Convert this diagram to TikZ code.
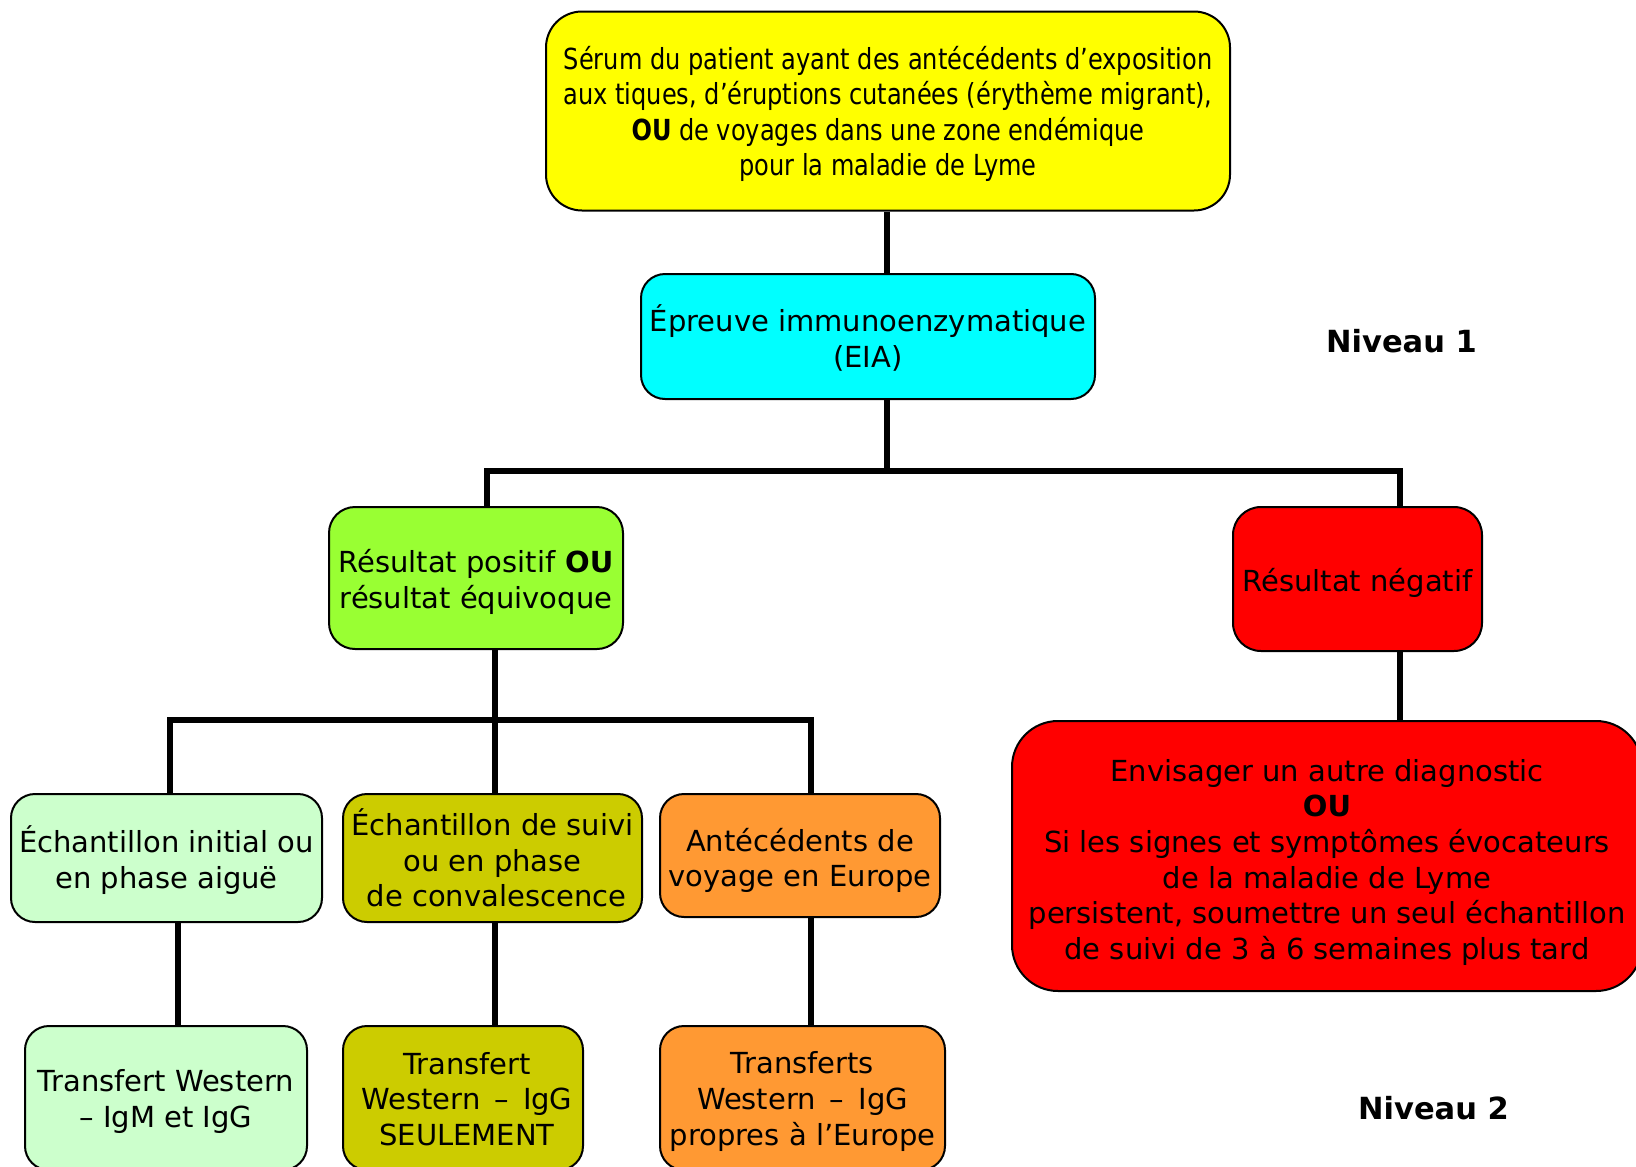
\documentclass[tikz,border=0pt]{standalone}
\usepackage{fontspec}
\setmainfont{DejaVu Sans}
\newfontfamily\narrowfont[FakeStretch=0.83]{DejaVu Sans}
\definecolor{cYel}{HTML}{FFFF00}
\definecolor{cCyan}{HTML}{00FFFF}
\definecolor{cGreen}{HTML}{99FF33}
\definecolor{cRed}{HTML}{FF0000}
\definecolor{cLight}{HTML}{CCFFCC}
\definecolor{cOlive}{HTML}{CCCC00}
\definecolor{cOrange}{HTML}{FF9933}
\begin{document}
\begin{tikzpicture}[x=1pt,y=-1pt,
  box/.style={draw=black, line width=2pt, inner sep=0pt},
  txt/.style={align=center, inner sep=0pt, font=\fontsize{29}{35.7}\selectfont},
  conn/.style={draw=black, line width=5.8pt},
  lvl/.style={font=\fontsize{30.5}{35}\selectfont\bfseries, inner sep=0pt}]
\useasboundingbox (0,0) rectangle (1636,1167);
\clip (0,0) rectangle (1636,1167);
\fill[white] (0,0) rectangle (1636,1167);

% junction coordinates
\coordinate (j1) at (887,471);
\coordinate (j2) at (494.6,720);
\coordinate (c3) at (1400,720);

% boxes
\node[box, fill=cYel, minimum width=684pt, minimum height=199pt, rounded corners=36pt] (yel) at (888,111) {};
\node[box, fill=cCyan, minimum width=454pt, minimum height=125pt, rounded corners=24pt] (cy) at (868,336.5) {};
\node[box, fill=cGreen, minimum width=294pt, minimum height=142pt, rounded corners=26pt] (pos) at (476,578) {};
\node[box, fill=cRed, minimum width=249pt, minimum height=144pt, rounded corners=28pt] (neg) at (1357.5,579) {};
\node[box, fill=cLight, minimum width=311pt, minimum height=128pt, rounded corners=24pt] (lg) at (166.5,858) {};
\node[box, fill=cOlive, minimum width=299pt, minimum height=128pt, rounded corners=24pt] (ol) at (492.5,858) {};
\node[box, fill=cOrange, minimum width=280pt, minimum height=123pt, rounded corners=24pt] (or) at (800,855.5) {};
\node[box, fill=cLight, minimum width=282pt, minimum height=144pt, rounded corners=24pt] (lg2) at (166,1098) {};
\node[box, fill=cOlive, minimum width=240pt, minimum height=144pt, rounded corners=24pt] (ol2) at (463,1098) {};
\node[box, fill=cOrange, minimum width=285pt, minimum height=144pt, rounded corners=24pt] (or2) at (802.5,1098) {};
\node[box, fill=cRed, minimum width=630pt, minimum height=270pt, rounded corners=46pt] (big) at (1327,856) {};

% texts
\node[txt, font=\fontsize{29}{35.6}\selectfont\narrowfont] (yelT) at ([yshift=-3pt]yel.center)
  {Sérum du patient ayant des antécédents d’exposition\\
   aux tiques, d’éruptions cutanées (érythème migrant),\\
   \textbf{OU} de voyages dans une zone endémique\\
   pour la maladie de Lyme};
\node[txt] (cyT) at ([yshift=-1.6pt]cy.center) {Épreuve immunoenzymatique\\(EIA)};
\node[txt] (posT) at ([yshift=-4.2pt]pos.center) {Résultat positif \textbf{OU}\\résultat équivoque};
\node[txt] (negT) at ([yshift=-4.2pt]neg.center) {Résultat négatif};
\node[txt] (lgT) at ([yshift=-2pt]lg.center) {Échantillon initial ou\\en phase aiguë};
\node[txt] (olT) at (ol.center) {Échantillon de suivi\\ou en phase\\\hphantom{i}de convalescence};
\node[txt] (orT) at ([yshift=-5pt]or.center) {Antécédents de\\voyage en Europe};
\node[txt] (lg2T) at ([yshift=-3.6pt]lg2.center) {Transfert Western\\– IgM et IgG};
\node[txt] (ol2T) at ([yshift=-1pt,xshift=4pt]ol2.center) {Transfert\\Western \,–\, IgG\\SEULEMENT};
\node[txt] (or2T) at ([yshift=-3.6pt]or2.center) {Transferts\\Western \,–\, IgG\\propres à l’Europe};
\node[txt] (bigT) at ([yshift=-6.3pt]big.center)
  {Envisager un autre diagnostic\\
   \textbf{OU}\\
   Si les signes et symptômes évocateurs\\
   de la maladie de Lyme\\
   persistent, soumettre un seul échantillon\\
   de suivi de 3 à 6 semaines plus tard};

\node[lvl] (n1) at (1401.5,341) {Niveau 1};
\node[lvl] (n2) at (1433.5,1108) {Niveau 2};

% connectors
\draw[conn] (yel.south -| j1) -- (cy.north -| j1);
\draw[conn] (cy.south -| j1) -- (j1);
\draw[conn] ([xshift=11pt]pos.north) |- (j1) -| ([xshift=42.5pt]neg.north);
\draw[conn] (pos.south -| j2) -- (j2);
\draw[conn] ([xshift=3.5pt]lg.north) |- (j2) -| ([xshift=11pt]or.north);
\draw[conn] (j2) -- (ol.north -| j2);
\draw[conn] ([xshift=11.5pt]lg.south) -- ([xshift=12pt]lg2.north);
\draw[conn] (ol.south -| j2) -- (ol2.north -| j2);
\draw[conn] ([xshift=11pt]or.south) -- ([xshift=8.5pt]or2.north);
\draw[conn] (neg.south -| c3) -- (big.north -| c3);
\end{tikzpicture}
\end{document}
